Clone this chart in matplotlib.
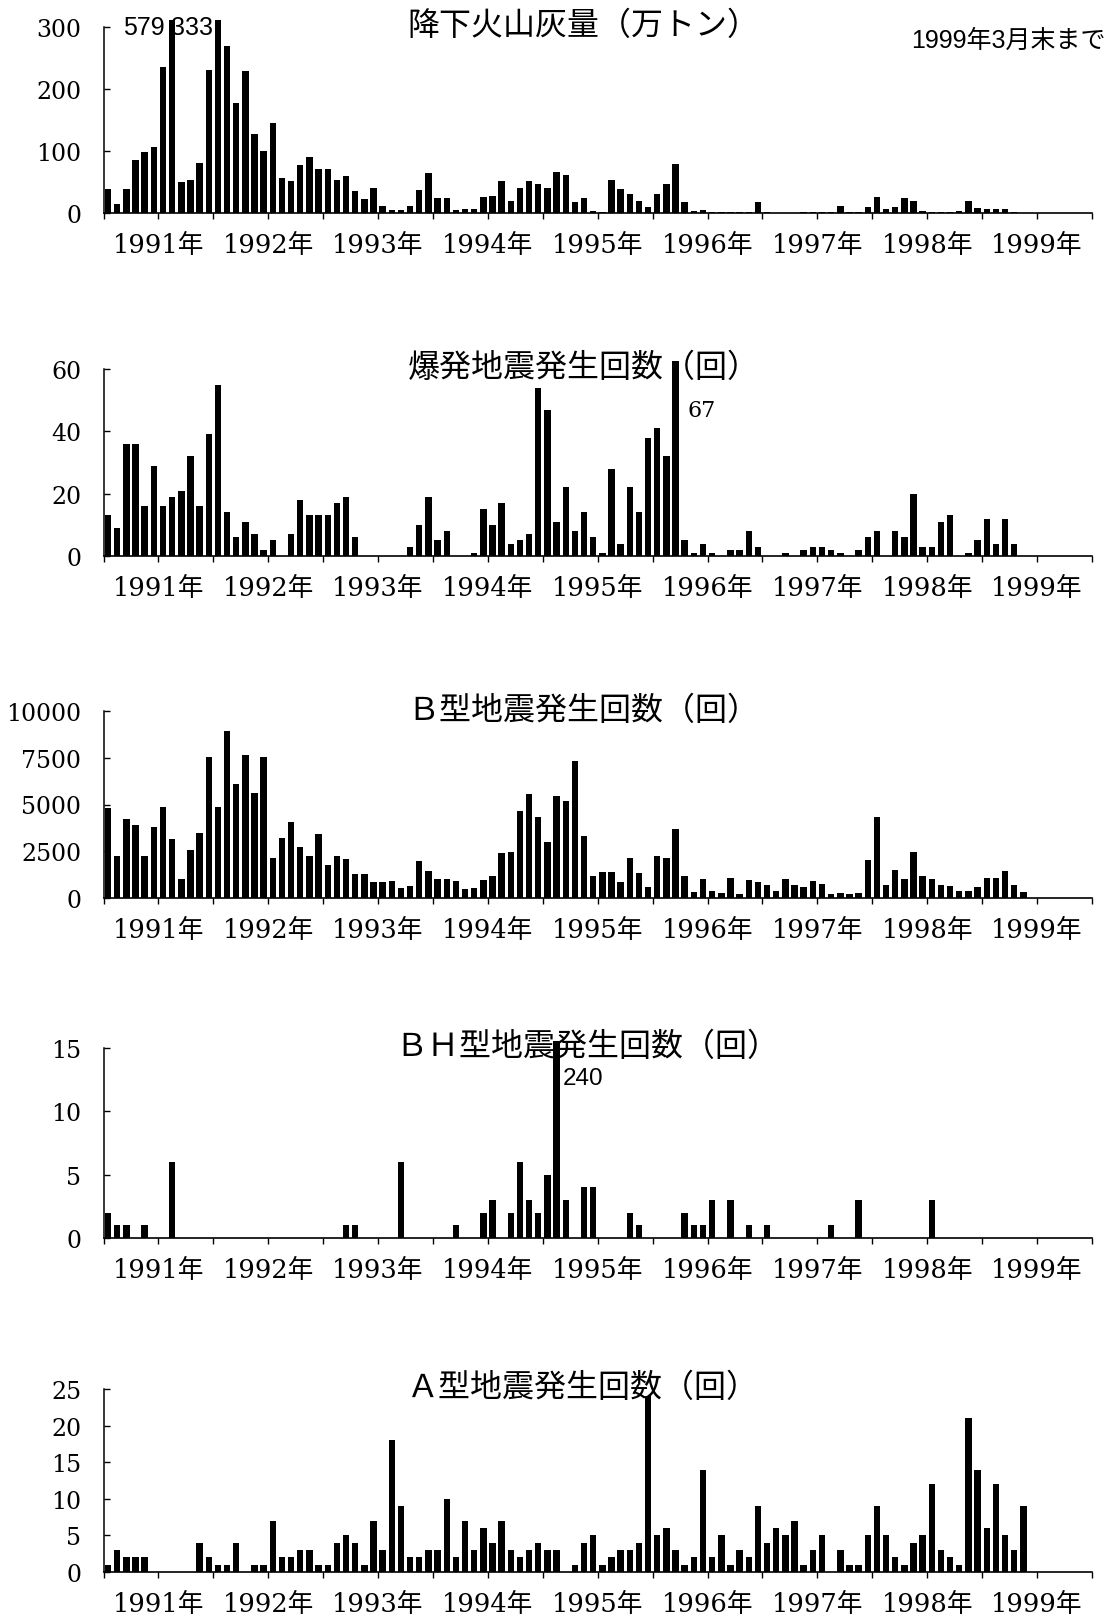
import matplotlib
matplotlib.use('Agg')
import matplotlib.pyplot as plt
import numpy as np

plt.rcParams['font.family'] = ['DejaVu Serif', 'Noto Sans CJK JP']

# ---------------- data (monthly, slot 0 = first month shown) ----------------
years = ['1991年', '1992年', '1993年', '1994年', '1995年',
         '1996年', '1997年', '1998年', '1999年']

ash = [39, 15, 39, 85, 98, 107, 236, 579, 50, 54,
       80, 231, 333, 269, 177, 229, 127, 100, 145, 57,
       52, 78, 91, 71, 71, 54, 60, 35, 23, 40,
       11, 5, 5, 11, 37, 64, 24, 25, 5, 7,
       7, 26, 28, 51, 20, 40, 51, 46, 41, 66,
       62, 18, 24, 4, 2, 54, 39, 31, 19, 9,
       30, 47, 79, 17, 4, 5, 2, 1, 1, 1,
       1, 18, 1, 0, 0, 0, 1, 1, 1, 1,
       11, 1, 1, 10, 26, 7, 10, 24, 19, 3,
       2, 2, 2, 3, 20, 8, 7, 7, 6, 1]

explosion = [13, 9, 36, 36, 16, 29, 16, 19, 21, 32,
             16, 39, 55, 14, 6, 11, 7, 2, 5, 0,
             7, 18, 13, 13, 13, 17, 19, 6, 0, 0,
             0, 0, 0, 3, 10, 19, 5, 8, 0, 0,
             1, 15, 10, 17, 4, 5, 7, 54, 47, 11,
             22, 8, 14, 6, 1, 28, 4, 22, 14, 38,
             41, 32, 67, 5, 1, 4, 1, 0, 2, 2,
             8, 3, 0, 0, 1, 0, 2, 3, 3, 2,
             1, 0, 2, 6, 8, 0, 8, 6, 20, 3,
             3, 11, 13, 0, 1, 5, 12, 4, 12, 4]

btype = [4800, 2250, 4240, 3920, 2220, 3780, 4840, 3160, 1010, 2550,
         3480, 7540, 4890, 8940, 6100, 7660, 5620, 7520, 2130, 3230,
         4080, 2750, 2250, 3440, 1770, 2250, 2090, 1310, 1280, 870,
         870, 890, 530, 620, 2000, 1440, 1030, 1030, 900, 480,
         550, 960, 1170, 2380, 2450, 4650, 5570, 4330, 3000, 5480,
         5200, 7300, 3300, 1150, 1400, 1400, 860, 2150, 1350, 600,
         2260, 2150, 3680, 1150, 310, 1040, 380, 290, 1090, 220,
         950, 860, 690, 370, 1020, 710, 600, 910, 770, 200,
         290, 220, 270, 2010, 4320, 710, 1510, 990, 2460, 1190,
         1020, 690, 620, 400, 380, 600, 1090, 1090, 1460, 710, 310]

bhtype = [2, 1, 1, 0, 1, 0, 0, 6, 0, 0,
          0, 0, 0, 0, 0, 0, 0, 0, 0, 0,
          0, 0, 0, 0, 0, 0, 1, 1, 0, 0,
          0, 0, 6, 0, 0, 0, 0, 0, 1, 0,
          0, 2, 3, 0, 2, 6, 3, 2, 5, 240,
          3, 0, 4, 4, 0, 0, 0, 2, 1, 0,
          0, 0, 0, 2, 1, 1, 3, 0, 3, 0,
          1, 0, 1, 0, 0, 0, 0, 0, 0, 1,
          0, 0, 3, 0, 0, 0, 0, 0, 0, 0,
          3, 0, 0, 0, 0, 0, 0, 0, 0, 0]

atype = [1, 3, 2, 2, 2, 0, 0, 0, 0, 0,
         4, 2, 1, 1, 4, 0, 1, 1, 7, 2,
         2, 3, 3, 1, 1, 4, 5, 4, 1, 7,
         3, 18, 9, 2, 2, 3, 3, 10, 2, 7,
         3, 6, 4, 7, 3, 2, 3, 4, 3, 3,
         0, 1, 4, 5, 1, 2, 3, 3, 4, 24,
         5, 6, 3, 1, 2, 14, 2, 5, 1, 3,
         2, 9, 4, 6, 5, 7, 1, 3, 5, 0,
         3, 1, 1, 5, 9, 5, 2, 1, 4, 5,
         12, 3, 2, 1, 21, 14, 6, 12, 5, 3, 9]

titles = ['降下火山灰量（万トン）', '爆発地震発生回数（回）', 'Ｂ型地震発生回数（回）',
          'ＢＨ型地震発生回数（回）', 'Ａ型地震発生回数（回）']
yticks_list = [[0, 100, 200, 300], [0, 20, 40, 60], [0, 2500, 5000, 7500, 10000],
               [0, 5, 10, 15], [0, 5, 10, 15, 20, 25]]
series = [ash, explosion, btype, bhtype, atype]

# ---------------- layout (pixels in the 1116x1624 canvas) ----------------
W, H = 1116, 1624
x_left, x_right = 103.5, 1092
# (pixel of top tick, pixel of zero, ylim top)
geom = [(28, 214, 311), (370, 557, 62.7), (712, 899, 10150),
        (1049, 1239, 15.55), (1390, 1573, 25.4)]
title_pos = [(583, 26), (584, 368), (583, 711), (587, 1047), (583, 1388)]
NSLOT = 108

fig = plt.figure(figsize=(W / 100, H / 100), dpi=100)
fig.patch.set_facecolor('white')

axes = []
for k in range(5):
    top_px, zero_px, ytop = geom[k]
    ticks_y = yticks_list[k]
    tmax = ticks_y[-1]
    h_px = (zero_px - top_px) * ytop / tmax
    ax = fig.add_axes([x_left / W, 1 - zero_px / H,
                       (x_right - x_left) / W, h_px / H])
    vals = series[k]
    xs = np.arange(len(vals)) + 0.5
    ax.bar(xs, vals, width=0.7, color='black', linewidth=0)
    ax.set_xlim(0, NSLOT)
    ax.set_ylim(0, ytop)
    for s in ['top', 'right']:
        ax.spines[s].set_visible(False)
    ax.spines['left'].set_bounds(0, tmax)
    ax.spines['left'].set_linewidth(1.1)
    ax.spines['bottom'].set_linewidth(1.2)
    ax.set_yticks(ticks_y)
    ax.set_yticklabels([str(t) for t in ticks_y])
    xt = np.arange(0, NSLOT + 1, 6)
    xl = ['' if i % 2 == 0 else years[(i - 1) // 2] for i in range(len(xt))]
    ax.set_xticks(xt)
    ax.set_xticklabels(xl)
    ax.tick_params(axis='y', direction='in', length=4, width=1, pad=16,
                   labelsize=17)
    ax.tick_params(axis='x', direction='out', length=4, width=1, pad=10,
                   labelsize=18.5)
    ax.set_facecolor('none')
    axes.append(ax)
    tx, ty = title_pos[k]
    fig.text(tx / W, 1 - ty / H, titles[k], ha='center', va='center',
             fontsize=23, family=['Noto Sans CJK JP'])

# annotations for clipped bars
axes[0].text(6.7, 300, '579', ha='right', va='center', fontsize=18,
             family=['Liberation Sans'])
axes[0].text(11.95, 300, '333', ha='right', va='center', fontsize=18,
             family=['Liberation Sans'])
axes[1].text(63.8, 47, '67', ha='left', va='center', fontsize=16,
             family=['DejaVu Serif'])
axes[3].text(50.2, 12.6, '240', ha='left', va='center', fontsize=17.5,
             family=['Liberation Sans'])

fig.text(1106 / W, 1 - 41 / H, '1999年3月末まで', ha='right', va='center',
         fontsize=18, family=['Liberation Sans', 'Noto Sans CJK JP'])

fig.savefig('out.png', dpi=100, facecolor='white')
